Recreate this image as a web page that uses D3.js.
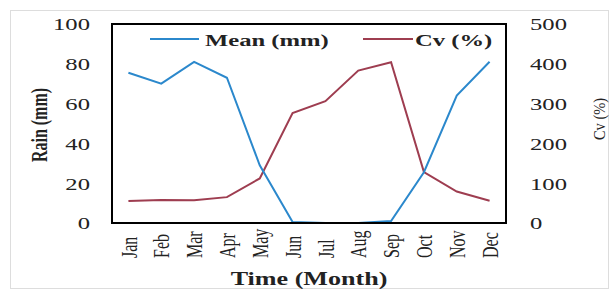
<!DOCTYPE html>
<head>
<meta charset="utf-8">
<style>
body{margin:0;background:#fff;}
text{font-family:"Liberation Serif","Times New Roman",serif;fill:#222;}
.axis path,.axis line{display:none;}
</style>
</head>
<body>
<svg width="611" height="291"></svg>
<script src="https://cdn.jsdelivr.net/npm/d3@7"></script>
<script>
var months = ["Jan","Feb","Mar","Apr","May","Jun","Jul","Aug","Sep","Oct","Nov","Dec"];
var meanRain = [75.5, 70, 81, 73, 29, 0.5, 0, 0, 1, 25.5, 64, 81];
var cvRain = [55, 58, 57, 65, 112, 276, 306, 383, 404, 128, 79, 56];
var leftTicks = [0,20,40,60,80,100];
var rightTicks = [0,100,200,300,400,500];

var svg = d3.select("svg");
var m = {left:112, right:506, top:24, bottom:223};
var sx = 1.45; // the original picture is stretched sideways

// light outer frame
svg.append("rect").attr("x",10.5).attr("y",10.5).attr("width",598).attr("height",278)
  .attr("fill","none").attr("stroke","#ddd");

var x = d3.scalePoint().domain(months).range([m.left,m.right]).padding(0.5);
var yL = d3.scaleLinear().domain([0,100]).range([m.bottom,m.top]);
var yR = d3.scaleLinear().domain([0,500]).range([m.bottom,m.top]);

// left axis
var gl = svg.append("g").attr("class","axis").attr("transform","translate(90,0)")
  .call(d3.axisLeft(yL).tickValues(leftTicks).tickSize(0));
gl.selectAll("text").style("font-size","17px").attr("x",0).attr("dy","0.35em")
  .attr("transform","scale("+sx+",1)");

// right axis
var gr = svg.append("g").attr("class","axis").attr("transform","translate(530,0)")
  .call(d3.axisRight(yR).tickValues(rightTicks).tickSize(0));
gr.selectAll("text").style("font-size","17px").attr("x",0).attr("dy","0.35em")
  .attr("transform","scale("+sx+",1)");

// month labels
var gx = svg.append("g").attr("class","axis")
  .call(d3.axisBottom(x).tickSize(0));
gx.selectAll("text").style("font-size","16px")
  .attr("text-anchor","start").attr("x",0).attr("y",0).attr("dy","0.33em")
  .attr("transform","translate(0,258) scale("+sx+",1) rotate(-90)");

var lineMean = d3.line().x(function(d,i){return x(months[i]);}).y(function(d){return yL(d);});
var lineCv = d3.line().x(function(d,i){return x(months[i]);}).y(function(d){return yR(d);});

svg.append("path").datum(cvRain).attr("d",lineCv)
  .attr("fill","none").attr("stroke","#9e3d50").attr("stroke-width",2);
svg.append("path").datum(meanRain).attr("d",lineMean)
  .attr("fill","none").attr("stroke","#2b88cc").attr("stroke-width",2);

// plot box
svg.append("rect").attr("x",m.left).attr("y",m.top).attr("width",m.right-m.left).attr("height",m.bottom-m.top)
  .attr("fill","none").attr("stroke","#000").attr("stroke-width",2);

function label(txt, tx, ty, size, bold, rot, anchor, scx){
  svg.append("text")
    .attr("transform","translate("+tx+","+ty+") scale("+(scx || sx)+",1)"+(rot ? " rotate(-90)" : ""))
    .attr("text-anchor",anchor || "start")
    .style("font-size",size+"px").style("font-weight",bold ? "bold" : "normal")
    .text(txt);
}

// legend
svg.append("line").attr("x1",150).attr("x2",199).attr("y1",39).attr("y2",39).attr("stroke","#2b88cc").attr("stroke-width",2);
label("Mean (mm)", 205, 46, 17, true);
svg.append("line").attr("x1",363).attr("x2",413).attr("y1",39).attr("y2",39).attr("stroke","#9e3d50").attr("stroke-width",2);
label("Cv (%)", 415, 46, 17, true);

// axis titles
label("Rain (mm)", 47, 125, 16, true, true, "middle");
label("Cv (%)", 605, 119, 14.5, false, true, "middle", 1.2);
label("Time (Month)", 309, 285, 18, true, false, "middle");
</script>
</body>
